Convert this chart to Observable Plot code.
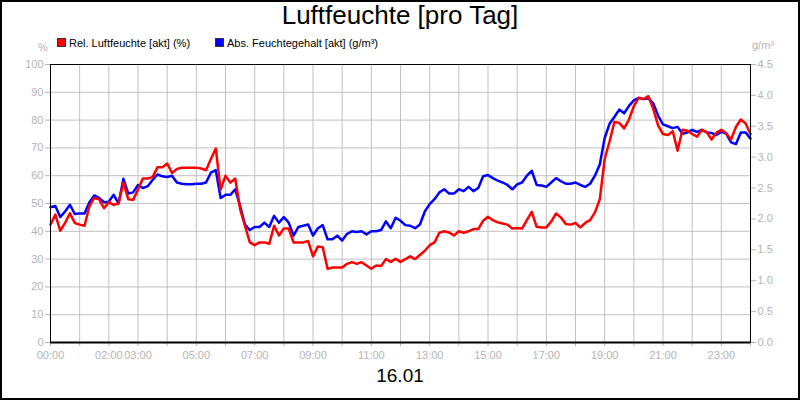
<!DOCTYPE html>
<html><head><meta charset="utf-8">
<script src="https://cdn.jsdelivr.net/npm/d3@7"></script>
<script src="https://cdn.jsdelivr.net/npm/@observablehq/plot@0.6"></script>
<style>
body{margin:0;background:#fff;}
#wrap{position:relative;width:800px;height:400px;background:#fff;font-family:"Liberation Sans",Arial,sans-serif;overflow:hidden;}
#border{position:absolute;left:0;top:0;width:800px;height:400px;box-sizing:border-box;border:2px solid #000;pointer-events:none;}
#title{position:absolute;left:0;top:0;width:800px;text-align:center;font-size:26px;line-height:30px;color:#000;}
.leg{position:absolute;top:37px;font-size:11px;line-height:13px;color:#000;white-space:nowrap;}
.sw{display:inline-block;width:7px;height:7px;border:1px solid #333;margin-right:3px;vertical-align:0px;}
.unit{position:absolute;font-size:11px;line-height:13px;color:#b4b4b4;}
#chart{position:absolute;left:0;top:50px;}
#date{position:absolute;left:0;top:365px;width:800px;text-align:center;font-size:19px;line-height:22px;color:#000;}
</style></head>
<body>
<div id="wrap">
  <div id="title">Luftfeuchte [pro Tag]</div>
  <div class="leg" style="left:57px"><span class="sw" style="background:#ff0000"></span>Rel. Luftfeuchte [akt] (%)</div>
  <div class="leg" style="left:215px"><span class="sw" style="background:#0000ff"></span>Abs. Feuchtegehalt [akt] (g/m³)</div>
  <div class="unit" style="left:38px;top:41px">%</div>
  <div class="unit" style="left:752px;top:39px">g/m³</div>
  <div id="chart"></div>
  <div id="date">16.01</div>
  <div id="border"></div>
</div>
<script>
// sample times, minutes after midnight
const minutes = [0,10,20,30,40,50,60,70,80,90,100,110,120,130,140,150,160,170,180,190,200,210,220,230,240,250,260,270,280,290,300,310,320,330,340,350,360,370,380,390,400,410,420,430,440,450,460,470,480,490,500,510,520,530,540,550,560,570,580,590,600,610,620,630,640,650,660,670,680,690,700,710,720,730,740,750,760,770,780,790,800,810,820,830,840,850,860,870,880,890,900,910,920,930,940,950,960,970,980,990,1000,1010,1020,1030,1040,1050,1060,1070,1080,1090,1100,1110,1120,1130,1140,1150,1160,1170,1180,1190,1200,1210,1220,1230,1240,1250,1260,1270,1280,1290,1300,1310,1320,1330,1340,1350,1360,1370,1380,1390,1400,1410,1420,1430,1440];

// Rel. Luftfeuchte (%)
const relHumidity = [
42.4,46,40.2,43,46.5,43,42.4,42,49,52,
51.5,48.3,50.5,49.5,50,57.5,51.5,51.3,55,59,
59,59.5,63,63,64.4,61,62.4,62.9,62.9,62.9,
62.9,62.6,62,66,69.8,55,60,57.5,59,48,
42,36,35,36,36,35.5,42,38.5,41,41,
36,36,36,36.5,31,34.5,34.3,26.5,27,27,
27,28.3,28.9,28.3,28.9,27.7,26.5,27.7,27.5,30,
29,30.1,29,30,31,30,31.5,33,35,36,
39.5,40,39.6,38.5,40,39.5,40,40.8,40.8,43.8,
45.2,44,43.2,42.8,42.4,41,41.2,41,44,47,
41.6,41.4,41.4,43.5,46.4,45,42.6,42.4,43,41.4,
43,44,46.8,51.5,66,72.3,79.3,79,77,80.2,
85,88,87.6,88.6,84,78,75,74.6,76,69,
76.5,76.2,75,74,76.5,75.6,73,75.5,76.5,75.3,
73,77.5,80.2,78.8,75];

// Abs. Feuchtegehalt (g/m³)
const absHumidity = [
2.19,2.21,2.03,2.12,2.23,2.08,2.09,2.09,2.27,2.38,
2.34,2.27,2.28,2.39,2.25,2.65,2.41,2.43,2.55,2.50,
2.53,2.63,2.72,2.69,2.68,2.70,2.59,2.57,2.56,2.56,
2.57,2.57,2.59,2.75,2.79,2.34,2.39,2.39,2.48,2.21,
1.91,1.82,1.87,1.87,1.94,1.87,2.05,1.94,2.03,1.94,
1.73,1.87,1.89,1.91,1.73,1.85,1.90,1.67,1.67,1.73,
1.65,1.76,1.80,1.79,1.80,1.75,1.80,1.80,1.82,1.96,
1.85,2.02,1.97,1.90,1.89,1.85,1.91,2.12,2.24,2.32,
2.43,2.48,2.41,2.41,2.48,2.45,2.52,2.45,2.50,2.69,
2.71,2.66,2.62,2.59,2.55,2.48,2.56,2.59,2.70,2.78,
2.55,2.54,2.52,2.59,2.66,2.61,2.57,2.57,2.59,2.55,
2.52,2.57,2.70,2.88,3.31,3.54,3.65,3.77,3.71,3.83,
3.92,3.96,3.94,3.95,3.87,3.67,3.53,3.50,3.47,3.49,
3.38,3.40,3.44,3.41,3.44,3.40,3.39,3.36,3.41,3.38,
3.24,3.21,3.40,3.40,3.30];

const leftTicks = [0,10,20,30,40,50,60,70,80,90,100];
const rightTicks = [0,0.5,1,1.5,2,2.5,3,3.5,4,4.5];
const hourTicks = [0,1,2,3,4,5,6,7,8,9,10,11,12,13,14,15,16,17,18,19,20,21,22,23,24];
const xTickLabels = ["00:00","","02:00","03:00","","05:00","","07:00","","09:00","","11:00","","13:00","","15:00","","17:00","","19:00","","21:00","","23:00",""];

const leftMax = leftTicks[leftTicks.length - 1];
const rightMax = rightTicks[rightTicks.length - 1];
const ratio = rightMax / leftMax; // g/m³ per %

const data = minutes.map((m, i) => ({h: m / 60, rel: relHumidity[i], abs: absHumidity[i] / ratio}));

const gray = "#b4b4b4";
const chart = Plot.plot({
  width: 800,
  height: 316,
  marginLeft: 50,
  marginRight: 50,
  marginTop: 14,
  marginBottom: 24,
  style: {fontFamily: "'Liberation Sans', Arial, sans-serif", fontSize: "11px", background: "transparent", overflow: "visible"},
  x: {domain: [0, 24]},
  y: {domain: [0, leftMax]},
  marks: [
    Plot.gridY(leftTicks, {stroke: "#c0c0c0", strokeOpacity: 1}),
    Plot.gridX(hourTicks, {stroke: "#c0c0c0", strokeOpacity: 1}),
    Plot.axisY(leftTicks, {anchor: "left", tickSize: 5, tickPadding: 2, color: gray, label: null}),
    Plot.axisY(rightTicks.map(v => v / ratio), {anchor: "right", tickSize: 5, tickPadding: 2, color: gray, label: null,
      tickFormat: d => (d * ratio).toFixed(1)}),
    Plot.axisX(hourTicks, {anchor: "bottom", tickSize: 4, tickPadding: 5, color: gray, label: null,
      tickFormat: d => xTickLabels[hourTicks.indexOf(d)]}),
    Plot.lineY(data, {x: "h", y: "abs", stroke: "#0000ff", strokeWidth: 2.5}),
    Plot.lineY(data, {x: "h", y: "rel", stroke: "#ff0000", strokeWidth: 2.5}),
    Plot.frame({stroke: "#000"}),
    Plot.ruleY([0], {stroke: "#000", strokeWidth: 2})
  ]
});
document.getElementById("chart").appendChild(chart);
</script>
</body></html>
